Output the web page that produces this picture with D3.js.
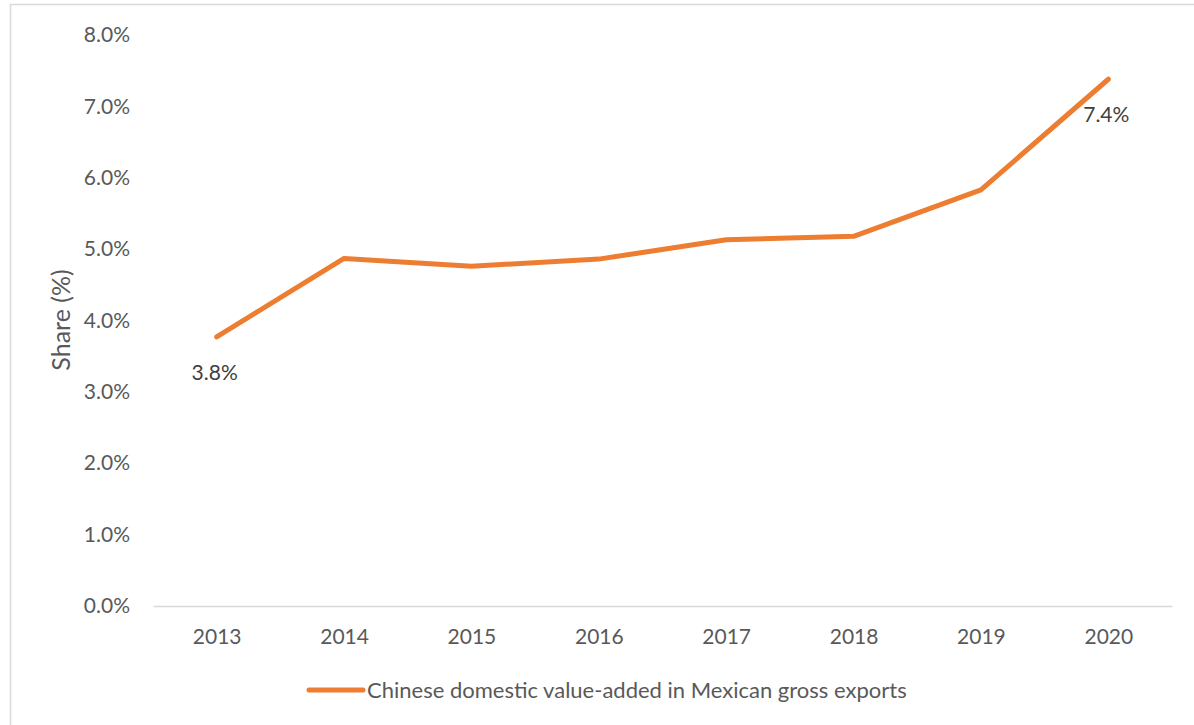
<!DOCTYPE html>
<html>
<head>
<meta charset="utf-8">
<script src="https://cdn.jsdelivr.net/npm/d3@7"></script>
<style>
  body { margin: 0; background: #fff; }
  svg { display: block; font-family: Lato, "Open Sans", sans-serif; }
</style>
</head>
<body>
<script>
var years = ['2013','2014','2015','2016','2017','2018','2019','2020'];
var shares = [3.77, 4.87, 4.76, 4.86, 5.13, 5.18, 5.83, 7.38];
var yTicks = [0,1,2,3,4,5,6,7,8];
var seriesName = 'Chinese domestic value-added in Mexican gross exports';

var width = 1194, height = 725;
var orange = '#ED7D31';

var svg = d3.select('body').append('svg')
    .attr('width', width)
    .attr('height', height);

// chart frame (only left and top edges are in view)
svg.append('rect')
    .attr('x', 10.5).attr('y', 4.5)
    .attr('width', 1250).attr('height', 800)
    .attr('fill', 'none')
    .attr('stroke', '#d9d9d9')
    .attr('stroke-width', 1.5);

var x = d3.scalePoint().domain(years).range([153, 1172]).padding(0.5);
var y = d3.scaleLinear().domain([0, 8]).range([606, 35]);

// y tick labels, no gridlines
var yAxis = svg.append('g')
    .attr('transform', 'translate(153,0)')
    .call(d3.axisLeft(y).tickValues(yTicks).tickSize(0).tickPadding(23)
        .tickFormat(function(d) { return d.toFixed(1) + '%'; }));
yAxis.select('.domain').remove();
yAxis.selectAll('text')
    .attr('fill', '#595959')
    .style('font-size', '21px')
    .style('font-family', 'Lato, sans-serif');

// x axis
var xAxis = svg.append('g')
    .attr('transform', 'translate(0,606)')
    .call(d3.axisBottom(x).tickSize(0).tickPadding(23));
xAxis.select('.domain')
    .attr('stroke', '#d9d9d9')
    .attr('stroke-width', 1.5);
xAxis.selectAll('text')
    .attr('fill', '#595959')
    .style('font-size', '21px')
    .style('font-family', 'Lato, sans-serif');

// axis title
svg.append('text')
    .attr('transform', 'translate(70,320) rotate(-90)')
    .attr('text-anchor', 'middle')
    .attr('fill', '#595959')
    .style('font-size', '25px')
    .text('Share (%)');

var line = d3.line()
    .x(function(d, i) { return x(years[i]); })
    .y(function(d) { return y(d); });

svg.append('path')
    .datum(shares)
    .attr('d', line)
    .attr('fill', 'none')
    .attr('stroke', orange)
    .attr('stroke-width', 5)
    .attr('stroke-linejoin', 'round')
    .attr('stroke-linecap', 'round');

// data labels on first and last points
var labelIdx = [0, shares.length - 1];
svg.selectAll('.dlabel')
    .data(labelIdx)
    .enter()
    .append('text')
    .attr('class', 'dlabel')
    .attr('x', function(i) { return x(years[i]) - 2; })
    .attr('y', function(i) { return y(shares[i]) + 43; })
    .attr('text-anchor', 'middle')
    .attr('fill', '#404040')
    .style('font-size', '21px')
    .text(function(i) { return shares[i].toFixed(1) + '%'; });

// legend
var legend = svg.append('g').attr('transform', 'translate(307,690)');
legend.append('line')
    .attr('x1', 2).attr('x2', 56)
    .attr('y1', 0).attr('y2', 0)
    .attr('stroke', orange)
    .attr('stroke-width', 5)
    .attr('stroke-linecap', 'round');
legend.append('text')
    .attr('x', 60).attr('y', 8)
    .attr('fill', '#595959')
    .style('font-size', '22px')
    .text(seriesName);
</script>
</body>
</html>
